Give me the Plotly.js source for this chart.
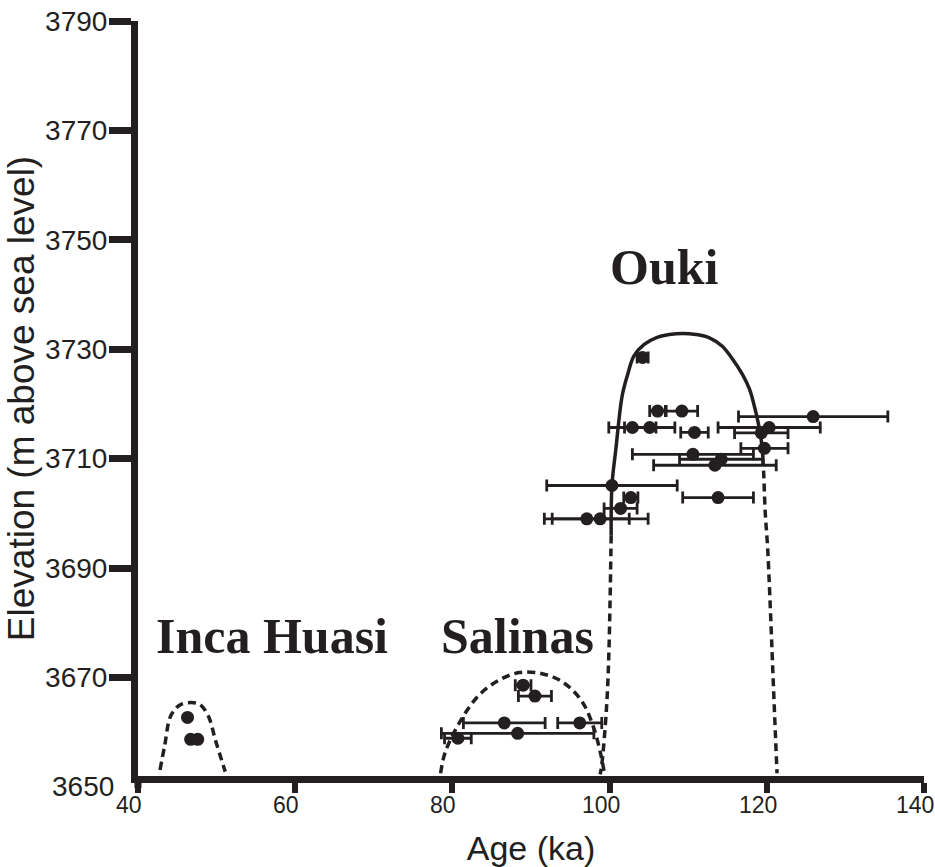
<!DOCTYPE html>
<html>
<head>
<meta charset="utf-8">
<script src="https://cdn.plot.ly/plotly-3.0.1.min.js"></script>
<style>html,body{margin:0;padding:0;background:#fff;}#chart{width:935px;height:867px;}</style>
</head>
<body>
<div id="chart"></div>
<script>
// ---- Data ----
// Inca Huasi samples
const incaAge = [46.3, 46.7, 47.6];
const incaElev = [3662.7, 3658.7, 3658.7];

// Salinas samples
const salAge = [89.0, 90.5, 86.6, 96.2, 88.3, 80.7];
const salElev = [3668.6, 3666.6, 3661.7, 3661.7, 3659.8, 3658.9];
const salErr = [1.0, 2.1, 5.2, 2.8, 9.7, 1.7];

// Ouki samples
const oukiAge = [104.2, 106.1, 109.2, 125.9, 102.9, 105.1, 110.8, 120.3, 119.3, 119.7,
                 110.6, 114.2, 113.4, 100.3, 113.8, 102.7, 101.4, 97.1, 98.8];
const oukiElev = [3728.5, 3718.7, 3718.7, 3717.7, 3715.7, 3715.7, 3714.8, 3715.7, 3714.7, 3711.9,
                  3710.8, 3709.9, 3708.8, 3705.1, 3702.9, 3702.9, 3700.9, 3699.0, 3699.0];
const oukiErr = [0.7, 1.0, 2.0, 9.5, 3.0, 3.2, 1.75, 6.5, 3.4, 3.0,
                 7.7, 5.3, 7.8, 8.3, 4.5, 0.9, 2.1, 5.4, 6.1];

// Lake level envelopes
const incaCurveAge = [42.8, 43.4, 44.2, 45.5, 47.7, 48.9, 49.9, 51.1];
const incaCurveElev = [3653.1, 3657.6, 3663.1, 3665.1, 3665.2, 3663.1, 3658.3, 3652.8];

const salCurveAge = [78.5, 79.1, 81.2, 83.4, 85.9, 88.5, 91.4, 94.0, 96.5, 98.0, 98.9, 99.3];
const salCurveElev = [3652.5, 3656.4, 3662.5, 3666.8, 3669.5, 3670.9, 3670.7, 3669.2, 3665.6, 3660.7, 3655.8, 3652.8];

const oukiSolidAge = [100.2, 100.3, 100.8, 101.6, 102.3, 103.1, 104.4, 105.9, 107.6, 109.3, 111.0,
                      112.7, 114.3, 115.7, 116.9, 117.8, 118.4, 118.9, 119.3, 119.5];
const oukiSolidElev = [3696.0, 3705.1, 3711.8, 3721.5, 3725.4, 3728.8, 3730.9, 3732.1, 3732.7, 3732.9, 3732.7,
                       3732.1, 3730.6, 3728.1, 3725.4, 3722.7, 3719.7, 3716.6, 3713.3, 3710.2];
const oukiLeftDashAge = [100.2, 99.9, 99.6, 99.0, 98.8];
const oukiLeftDashElev = [3696.0, 3674.1, 3664.3, 3654.0, 3652.3];
const oukiRightDashAge = [119.5, 119.6, 119.8, 120.1, 120.4, 120.8, 121.3];
const oukiRightDashElev = [3710.2, 3707.5, 3700.2, 3693.8, 3684.4, 3670.0, 3652.5];

const xTicks = [40, 60, 80, 100, 120, 140];
const yTicks = [3670, 3690, 3710, 3730, 3750, 3770, 3790];
const yBottomLabel = '3650';

const labels = ['Inca Huasi', 'Salinas', 'Ouki'];
const labelAge = [57.0, 88.3, 107.0];
const labelElev = [3677.6, 3677.6, 3745.0];

// ---- Styling ----
const INK = '#231f20';
const SANS = 'Liberation Sans, Arial, Helvetica, sans-serif';
const SERIF = 'Liberation Serif, Times New Roman, serif';

const dashLine = {color: INK, width: 3.5, dash: '8px,5px'};
const errStyle = (arr) => ({type: 'data', symmetric: true, array: arr, color: INK, thickness: 2.8, width: 6});
const mk = {color: INK, size: 13};

const traces = [
  {x: incaCurveAge, y: incaCurveElev, mode: 'lines', line: Object.assign({shape: 'spline'}, dashLine), hoverinfo: 'skip'},
  {x: salCurveAge, y: salCurveElev, mode: 'lines', line: Object.assign({shape: 'spline'}, dashLine), hoverinfo: 'skip'},
  {x: oukiLeftDashAge, y: oukiLeftDashElev, mode: 'lines', line: Object.assign({shape: 'spline'}, dashLine), hoverinfo: 'skip'},
  {x: oukiRightDashAge, y: oukiRightDashElev, mode: 'lines', line: Object.assign({shape: 'spline'}, dashLine), hoverinfo: 'skip'},
  {x: oukiSolidAge, y: oukiSolidElev, mode: 'lines', line: {color: INK, width: 3.5, shape: 'spline'}, hoverinfo: 'skip'},
  {x: incaAge, y: incaElev, mode: 'markers', marker: mk},
  {x: salAge, y: salElev, mode: 'markers', marker: mk, error_x: errStyle(salErr)},
  {x: oukiAge, y: oukiElev, mode: 'markers', marker: mk, error_x: errStyle(oukiErr)}
];

const X0 = 40, X1 = 140;
const Y0 = 3652, Y1 = 3790;
const annotations = labels.map((t, i) => ({
  x: labelAge[i], y: labelElev[i], xref: 'x', yref: 'y', text: '<b>' + t + '</b>',
  showarrow: false, xanchor: 'center', yanchor: 'middle',
  font: {family: SERIF, size: 50, color: INK}
}));
// y-axis bottom label (the x-axis sits slightly above 3650 in the original)
annotations.push({
  x: 0, y: (3650 - Y0) / (Y1 - Y0), xref: 'paper', yref: 'paper', text: yBottomLabel, showarrow: false,
  xanchor: 'right', yanchor: 'middle', xshift: -22, yshift: 0,
  font: {family: SANS, size: 28, color: INK}
});
// x tick labels (slightly offset to the left of their ticks, as in the original)
xTicks.forEach(v => annotations.push({
  x: (v - X0) / (X1 - X0), y: 0, xref: 'paper', yref: 'paper', text: String(v), showarrow: false,
  xanchor: 'center', yanchor: 'top', xshift: -9, yshift: -14,
  font: {family: SANS, size: 23, color: INK}
}));

const layout = {
  width: 935, height: 867,
  margin: {l: 138, r: 11, t: 21, b: 91, pad: 0},
  paper_bgcolor: '#fff', plot_bgcolor: '#fff',
  showlegend: false,
  xaxis: {
    range: [X0, X1], tickvals: xTicks, showticklabels: false,
    showline: true, linewidth: 7, linecolor: INK, mirror: false,
    ticks: 'outside', ticklen: 10, tickwidth: 6, tickcolor: INK,
    showgrid: false, zeroline: false,
    title: {text: 'Age (ka)', font: {family: SANS, size: 34, color: INK}, standoff: 47}
  },
  yaxis: {
    range: [Y0, Y1], tickvals: yTicks, ticktext: yTicks.map(String),
    showline: true, linewidth: 7, linecolor: INK,
    ticks: 'outside', ticklen: 22, tickwidth: 7, tickcolor: INK,
    ticklabeloverflow: 'allow', ticklabelstandoff: -4,
    showgrid: false, zeroline: false,
    tickfont: {family: SANS, size: 28, color: INK},
    title: {text: 'Elevation (m above sea level)', font: {family: SANS, size: 37, color: INK}, standoff: 2}
  },
  annotations: annotations,
  shapes: [{
    type: 'line', xref: 'paper', yref: 'paper', x0: 0, x1: 0, y0: 0, y1: -0.016,
    line: {color: INK, width: 7}
  }]
};

Plotly.newPlot('chart', traces, layout, {displayModeBar: false, staticPlot: true});
</script>
</body>
</html>
